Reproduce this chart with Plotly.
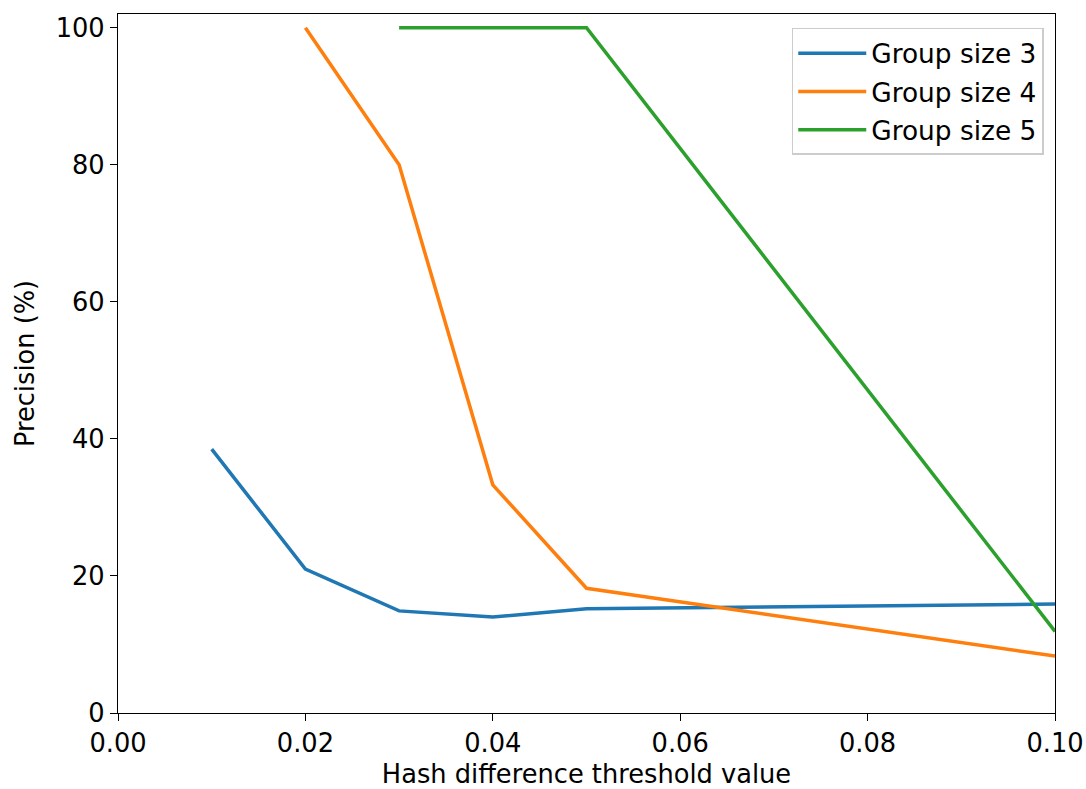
import plotly.graph_objects as go

# Data
x_g3 = [0.01, 0.02, 0.03, 0.04, 0.05, 0.10]
y_g3 = [38.5, 21.0, 14.9, 14.0, 15.2, 15.9]

x_g4 = [0.02, 0.03, 0.04, 0.05, 0.10]
y_g4 = [100.0, 80.0, 33.3, 18.2, 8.3]

x_g5 = [0.03, 0.04, 0.05, 0.10]
y_g5 = [100.0, 100.0, 100.0, 11.9]

names = ["Group size 3", "Group size 4", "Group size 5"]
colors = ["#1f77b4", "#ff7f0e", "#2ca02c"]

x_ticks = [0.00, 0.02, 0.04, 0.06, 0.08, 0.10]
x_ticklabels = ["0.00", "0.02", "0.04", "0.06", "0.08", "0.10"]
y_ticks = [0, 20, 40, 60, 80, 100]

FONT = "DejaVu Sans"
FS = 25.7
LFS = 26.4

fig = go.Figure()
for i, (xs, ys) in enumerate([(x_g3, y_g3), (x_g4, y_g4), (x_g5, y_g5)]):
    fig.add_trace(go.Scatter(
        x=xs, y=ys, mode="lines", name=names[i],
        line=dict(color=colors[i], width=3.5),
        legendgroup="g%d" % i,
    ))

fig.update_layout(
    width=1086, height=789,
    margin=dict(l=118, r=31, t=14, b=76),
    paper_bgcolor="white", plot_bgcolor="white",
    font=dict(family=FONT, size=FS, color="black"),
    showlegend=True,
    legend=dict(
        x=0.988, y=0.98, xanchor="right", yanchor="top",
        bgcolor="rgba(255,255,255,0.8)",
        bordercolor="#cccccc", borderwidth=1.5,
        font=dict(family=FONT, size=LFS, color="black"),
        tracegroupgap=1,
        itemwidth=68,
    ),
)

fig.update_xaxes(
    range=[0, 0.10], tickmode="array", tickvals=x_ticks, ticktext=x_ticklabels,
    showgrid=False, zeroline=False, automargin=False,
    showline=True, linecolor="black", linewidth=1.4, mirror=True,
    ticks="outside", ticklen=7, tickwidth=1.4, tickcolor="black",
    title=dict(text="Hash difference threshold value", font=dict(family=FONT, size=FS), standoff=9),
)
fig.update_yaxes(
    range=[0, 102], tickmode="array", tickvals=y_ticks,
    showgrid=False, zeroline=False, automargin=False,
    showline=True, linecolor="black", linewidth=1.4, mirror=True,
    ticks="outside", ticklen=7, tickwidth=1.4, tickcolor="black",
    title=dict(text="Precision (%)", font=dict(family=FONT, size=FS), standoff=13),
)

fig.write_html("out.html")
